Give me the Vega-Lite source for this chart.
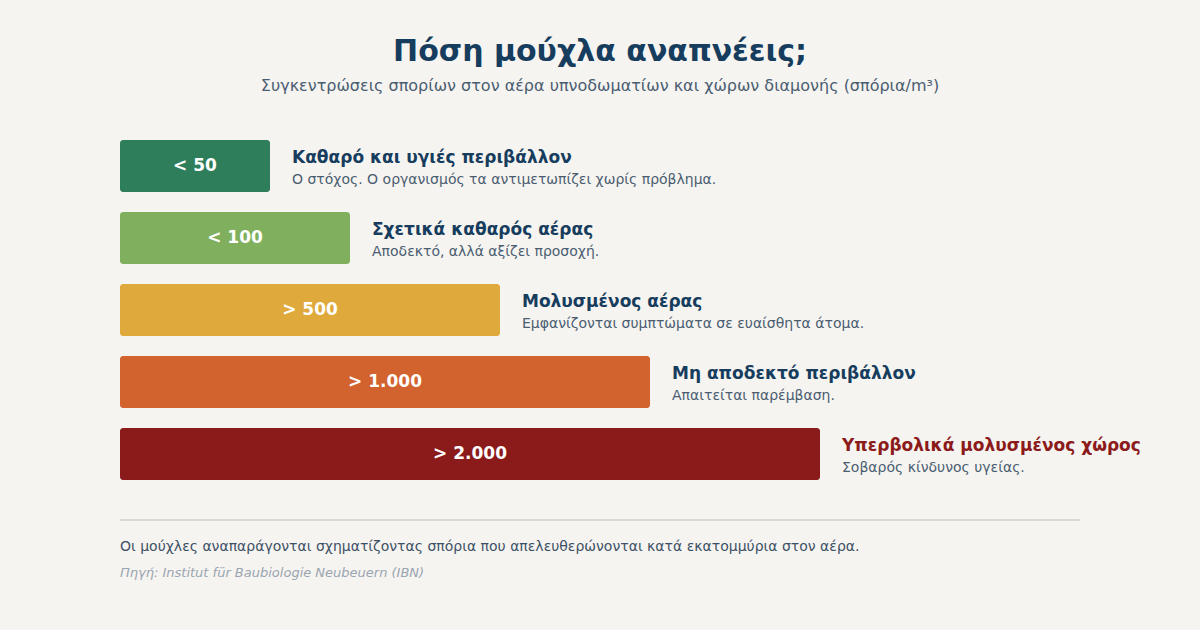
{
  "$schema": "https://vega.github.io/schema/vega-lite/v6.json",
  "width": 1200,
  "height": 510,
  "autosize": "none",
  "padding": {"top": 120, "left": 0, "right": 0, "bottom": 0},
  "background": "#f6f4f0",
  "title": {
    "text": "Πόση μούχλα αναπνέεις;",
    "subtitle": "Συγκεντρώσεις σπορίων στον αέρα υπνοδωματίων και χώρων διαμονής (σπόρια/m³)",
    "anchor": "middle",
    "frame": "group",
    "font": "DejaVu Sans",
    "fontSize": 30,
    "fontWeight": "bold",
    "color": "#173d5e",
    "subtitleFont": "DejaVu Sans",
    "subtitleFontSize": 16,
    "subtitleColor": "#4a5d70",
    "subtitlePadding": 11,
    "offset": 26
  },
  "data": {
    "values": [
      {"rank": 1, "range": "< 50", "level": 15, "title": "Καθαρό και υγιές περιβάλλον", "desc": "Ο στόχος. Ο οργανισμός τα αντιμετωπίζει χωρίς πρόβλημα."},
      {"rank": 2, "range": "< 100", "level": 23, "title": "Σχετικά καθαρός αέρας", "desc": "Αποδεκτό, αλλά αξίζει προσοχή."},
      {"rank": 3, "range": "> 500", "level": 38, "title": "Μολυσμένος αέρας", "desc": "Εμφανίζονται συμπτώματα σε ευαίσθητα άτομα."},
      {"rank": 4, "range": "> 1.000", "level": 53, "title": "Μη αποδεκτό περιβάλλον", "desc": "Απαιτείται παρέμβαση."},
      {"rank": 5, "range": "> 2.000", "level": 70, "title": "Υπερβολικά μολυσμένος χώρος", "desc": "Σοβαρός κίνδυνος υγείας."}
    ]
  },
  "layer": [
    {
      "description": "bars",
      "mark": {"type": "bar", "orient": "horizontal", "size": 52, "cornerRadius": 3},
      "encoding": {
        "x": {
          "field": "level",
          "type": "quantitative",
          "axis": null,
          "scale": {"domain": [-12, 108], "nice": false, "zero": false, "padding": 0}
        },
        "y": {
          "field": "rank",
          "type": "quantitative",
          "axis": null,
          "scale": {"domain": [0.3611, 7.4444], "reverse": true, "nice": false, "zero": false, "padding": 0}
        },
        "color": {
          "field": "range",
          "type": "nominal",
          "legend": null,
          "scale": {
            "domain": ["< 50", "< 100", "> 500", "> 1.000", "> 2.000"],
            "range": ["#2e7d5b", "#80b05e", "#e0a93c", "#d2622e", "#8b1a1a"]
          }
        }
      }
    },
    {
      "description": "range label centred in bar",
      "mark": {"type": "text", "align": "center", "baseline": "middle", "color": "white", "font": "DejaVu Sans", "fontSize": 17, "fontWeight": "bold"},
      "encoding": {
        "x": {
          "field": "level",
          "type": "quantitative",
          "axis": null,
          "scale": {"domain": [-24, 216], "nice": false, "zero": false, "padding": 0}
        },
        "y": {"field": "rank", "type": "quantitative"},
        "text": {"field": "range"}
      }
    },
    {
      "description": "category title",
      "mark": {"type": "text", "align": "left", "baseline": "middle", "dx": 22, "dy": -8, "font": "DejaVu Sans", "fontSize": 17, "fontWeight": "bold"},
      "encoding": {
        "x": {
          "field": "level",
          "type": "quantitative",
          "axis": null,
          "scale": {"domain": [-12, 108], "nice": false, "zero": false, "padding": 0}
        },
        "y": {"field": "rank", "type": "quantitative"},
        "text": {"field": "title"},
        "color": {
          "condition": {"test": "datum.rank === 5", "value": "#8b1a1a"},
          "value": "#173d5e"
        }
      }
    },
    {
      "description": "category description",
      "mark": {"type": "text", "align": "left", "baseline": "middle", "dx": 22, "dy": 14, "font": "DejaVu Sans", "fontSize": 14, "color": "#4a5d70"},
      "encoding": {
        "x": {
          "field": "level",
          "type": "quantitative",
          "axis": null,
          "scale": {"domain": [-12, 108], "nice": false, "zero": false, "padding": 0}
        },
        "y": {"field": "rank", "type": "quantitative"},
        "text": {"field": "desc"}
      }
    },
    {
      "description": "separator",
      "data": {"values": [{"part": "separator"}]},
      "mark": {"type": "rule", "color": "#ddd8d1", "strokeWidth": 2},
      "encoding": {
        "x": {"datum": 0, "type": "quantitative", "axis": null, "scale": {"domain": [-12, 108], "nice": false, "zero": false, "padding": 0}},
        "x2": {"datum": 96},
        "y": {"datum": 5.9167, "type": "quantitative"}
      }
    },
    {
      "description": "note",
      "data": {"values": [{"note": "Οι μούχλες αναπαράγονται σχηματίζοντας σπόρια που απελευθερώνονται κατά εκατομμύρια στον αέρα."}]},
      "mark": {"type": "text", "align": "left", "baseline": "middle", "font": "DejaVu Sans", "fontSize": 14, "color": "#3d5166"},
      "encoding": {
        "x": {"datum": 0, "type": "quantitative", "axis": null, "scale": {"domain": [-12, 108], "nice": false, "zero": false, "padding": 0}},
        "y": {"datum": 6.2917, "type": "quantitative"},
        "text": {"field": "note"}
      }
    },
    {
      "description": "source",
      "data": {"values": [{"source": "Πηγή: Institut für Baubiologie Neubeuern (IBN)"}]},
      "mark": {"type": "text", "align": "left", "baseline": "middle", "font": "DejaVu Sans", "fontSize": 13, "fontStyle": "italic", "color": "#9aa5b1"},
      "encoding": {
        "x": {"datum": 0, "type": "quantitative", "axis": null, "scale": {"domain": [-12, 108], "nice": false, "zero": false, "padding": 0}},
        "y": {"datum": 6.653, "type": "quantitative"},
        "text": {"field": "source"}
      }
    }
  ],
  "resolve": {"scale": {"x": "independent"}},
  "config": {
    "view": {"stroke": null},
    "axis": {"grid": false}
  }
}
